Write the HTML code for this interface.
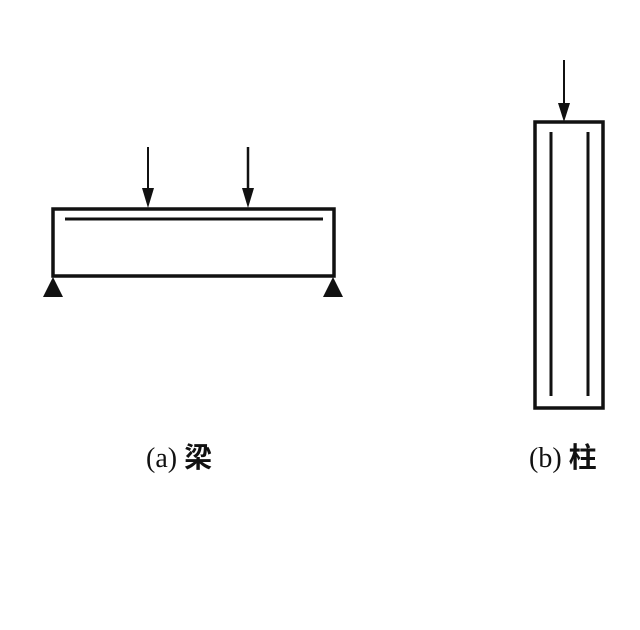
<!DOCTYPE html>
<html><head><meta charset="utf-8"><style>
html,body{margin:0;padding:0;background:#fff;width:640px;height:630px;overflow:hidden}
svg{display:block}
text{font-family:"Liberation Serif","Noto Sans CJK SC",serif;font-size:28px;fill:#111}
</style></head><body>
<svg width="640" height="630" viewBox="0 0 640 630">
<g stroke="#111" fill="none">
<rect x="53" y="209" width="281" height="67" stroke-width="3.5"/>
<line x1="65" y1="219" x2="323" y2="219" stroke-width="3"/>
<line x1="148" y1="147" x2="148" y2="192" stroke-width="2"/>
<line x1="248" y1="147" x2="248" y2="192" stroke-width="2.5"/>
<rect x="535" y="122" width="68" height="286" stroke-width="3.5"/>
<line x1="551" y1="132" x2="551" y2="396" stroke-width="3"/>
<line x1="588" y1="132" x2="588" y2="396" stroke-width="3"/>
<line x1="564" y1="60" x2="564" y2="106" stroke-width="2"/>
</g>
<g fill="#111">
<polygon points="142,188 154,188 148,208"/>
<polygon points="242,188 254,188 248,208"/>
<polygon points="558,103 570,103 564,122"/>
<polygon points="53,277 43,297 63,297"/>
<polygon points="333,277 323,297 343,297"/>
</g>
<text x="146" y="467">(a) <tspan font-weight="bold">梁</tspan></text>
<text x="529" y="467">(b) <tspan font-weight="bold">柱</tspan></text>
</svg>
</body></html>
